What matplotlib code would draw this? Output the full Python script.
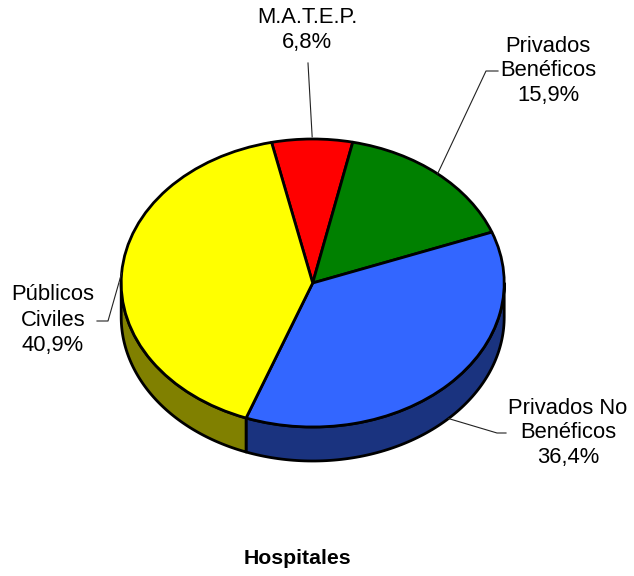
import numpy as np
import matplotlib
matplotlib.use('Agg')
import matplotlib.pyplot as plt
from matplotlib.patches import Polygon

plt.rcParams['font.family'] = ['Liberation Sans', 'DejaVu Sans']

# data
labels = ['M.A.T.E.P.', 'Privados\nBenéficos', 'Privados No\nBenéficos', 'Públicos\nCiviles']
values = [6.8, 15.9, 36.4, 40.9]
top_colors = ['#FF0000', '#008000', '#3366FF', '#FFFF00']
side_colors = ['#800000', '#004000', '#1A337F', '#808000']
title = 'Hospitales'

# layout in pixels (figure is 634x576)
W, H = 634, 576
cx, cy = 312.7, 283.0       # centre of top face
rx, ry = 191.5, 144.0       # radii of the ellipse
depth = 34.0                # thickness of the pie
# label block centres and leader elbow points (pixels)
label_pos = [(307, 30), (548, 71), (568, 433), (53, 320)]
leader_pts = [[], [(486, 71), (498, 71)], [(497, 433), (506, 433)], [(108, 321), (97, 321)]]


def to_data(px, py):
    return (px - cx) / rx, (cy - py) / ry


fig = plt.figure(figsize=(W / 100, H / 100), dpi=100)
ax = fig.add_axes([0, 0, 1, 1])

wedges, _ = ax.pie(values, colors=top_colors, startangle=102.4, counterclock=False,
                   wedgeprops=dict(edgecolor='black', linewidth=2.0, joinstyle='round'))
for w in wedges:
    w.set_zorder(3)

ax.set_aspect('auto')
ax.set_xlim(-cx / rx, (W - cx) / rx)
ax.set_ylim((cy - H) / ry, cy / ry)
ax.axis('off')

d = depth / ry

# side walls, only the front (lower) half is visible
for w, sc in zip(wedges, side_colors):
    for k in (-1, 0, 1):
        lo = max(w.theta1, -180 + 360 * k)
        hi = min(w.theta2, 360 * k)
        if hi <= lo:
            continue
        t = np.radians(np.linspace(lo, hi, 100))
        top = np.column_stack([np.cos(t), np.sin(t)])
        bottom = np.column_stack([np.cos(t), np.sin(t) - d])[::-1]
        ax.add_patch(Polygon(np.vstack([top, bottom]), closed=True, facecolor=sc,
                             edgecolor='black', linewidth=2.0, joinstyle='round', zorder=2))

# labels with leader lines
for w, lab, v, pos, pts in zip(wedges, labels, values, label_pos, leader_pts):
    mid = np.radians((w.theta1 + w.theta2) / 2)
    axx, ayy = np.cos(mid), np.sin(mid)
    if ayy < 0:
        ayy -= d
    tx, ty = to_data(*pos)
    txt = lab + '\n' + f'{v:.1f}'.replace('.', ',') + '%'
    ax.text(tx, ty, txt, ha='center', va='center', multialignment='center',
            fontsize=15.8, linespacing=1.25, color='black', zorder=5)
    if pts:
        xs = [axx] + [to_data(*p)[0] for p in pts]
        ys = [ayy] + [to_data(*p)[1] for p in pts]
    else:
        # straight line up to the text
        xs = [axx, to_data(308, 63)[0]]
        ys = [ayy + 0.015, to_data(308, 63)[1]]
    ax.plot(xs, ys, color='#222222', linewidth=0.8, zorder=4)

tx, ty = to_data(297.5, 559)
ax.text(tx, ty, title, ha='center', va='center', fontsize=15.3, fontweight='bold')

fig.savefig('out.png', dpi=100)
